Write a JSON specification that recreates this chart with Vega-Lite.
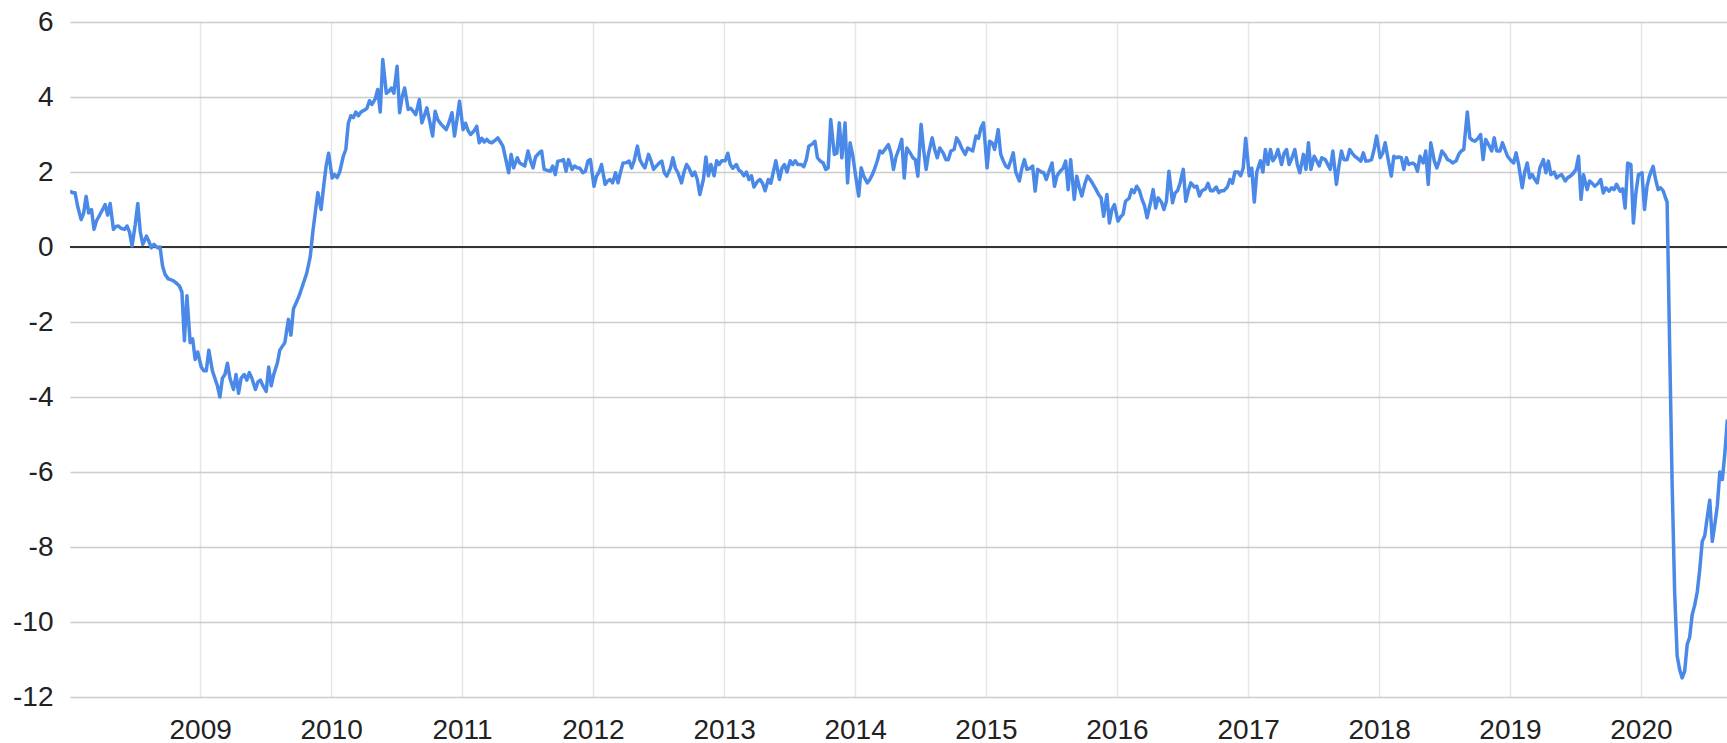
{
"$schema": "https://vega.github.io/schema/vega-lite/v6.json",
"width": 1657, "height": 675, "autosize": "none",
"padding": {"left": 70, "top": 22, "right": 0, "bottom": 46},
"background": "white",
"config": {"view": {"stroke": null}, "font": "Liberation Sans"},
"datasets": {"s": [
{"d":"2008-01-04","v":1.49},{"d":"2008-01-11","v":1.45},{"d":"2008-01-18","v":1.45},{"d":"2008-01-25","v":1.1},
{"d":"2008-02-04","v":0.73},{"d":"2008-02-11","v":0.9},{"d":"2008-02-18","v":1.35},{"d":"2008-02-25","v":0.91},
{"d":"2008-03-04","v":1.0},{"d":"2008-03-11","v":0.47},{"d":"2008-03-18","v":0.7},{"d":"2008-03-25","v":0.82},
{"d":"2008-04-04","v":1.0},{"d":"2008-04-11","v":1.13},{"d":"2008-04-18","v":0.85},{"d":"2008-04-25","v":1.16},
{"d":"2008-05-04","v":0.47},{"d":"2008-05-11","v":0.55},{"d":"2008-05-18","v":0.56},{"d":"2008-05-25","v":0.5},
{"d":"2008-06-04","v":0.47},{"d":"2008-06-11","v":0.56},{"d":"2008-06-18","v":0.4},{"d":"2008-06-25","v":0.03},
{"d":"2008-07-04","v":0.6},{"d":"2008-07-11","v":1.16},{"d":"2008-07-18","v":0.4},{"d":"2008-07-25","v":0.07},
{"d":"2008-08-04","v":0.29},{"d":"2008-08-11","v":0.15},{"d":"2008-08-18","v":-0.02},{"d":"2008-08-25","v":0.07},
{"d":"2008-09-04","v":-0.02},{"d":"2008-09-11","v":0.0},{"d":"2008-09-18","v":-0.5},{"d":"2008-09-25","v":-0.73},
{"d":"2008-10-04","v":-0.85},{"d":"2008-10-11","v":-0.87},{"d":"2008-10-18","v":-0.9},{"d":"2008-10-25","v":-0.95},
{"d":"2008-11-04","v":-1.04},{"d":"2008-11-11","v":-1.2},{"d":"2008-11-18","v":-2.5},{"d":"2008-11-25","v":-1.3},
{"d":"2008-12-04","v":-2.55},{"d":"2008-12-11","v":-2.45},{"d":"2008-12-18","v":-3.0},{"d":"2008-12-25","v":-2.8},
{"d":"2009-01-04","v":-3.2},{"d":"2009-01-11","v":-3.3},{"d":"2009-01-18","v":-3.3},{"d":"2009-01-25","v":-2.75},
{"d":"2009-02-04","v":-3.3},{"d":"2009-02-11","v":-3.5},{"d":"2009-02-18","v":-3.7},{"d":"2009-02-25","v":-4.0},
{"d":"2009-03-04","v":-3.5},{"d":"2009-03-11","v":-3.4},{"d":"2009-03-18","v":-3.1},{"d":"2009-03-25","v":-3.5},
{"d":"2009-04-04","v":-3.8},{"d":"2009-04-11","v":-3.4},{"d":"2009-04-18","v":-3.9},{"d":"2009-04-25","v":-3.5},
{"d":"2009-05-04","v":-3.4},{"d":"2009-05-11","v":-3.55},{"d":"2009-05-18","v":-3.35},{"d":"2009-05-25","v":-3.5},
{"d":"2009-06-04","v":-3.8},{"d":"2009-06-11","v":-3.6},{"d":"2009-06-18","v":-3.55},{"d":"2009-06-25","v":-3.7},
{"d":"2009-07-04","v":-3.85},{"d":"2009-07-11","v":-3.2},{"d":"2009-07-18","v":-3.7},{"d":"2009-07-25","v":-3.4},
{"d":"2009-08-04","v":-3.1},{"d":"2009-08-11","v":-2.75},{"d":"2009-08-18","v":-2.65},{"d":"2009-08-25","v":-2.55},
{"d":"2009-09-04","v":-1.93},{"d":"2009-09-11","v":-2.35},{"d":"2009-09-18","v":-1.65},{"d":"2009-09-25","v":-1.5},
{"d":"2009-10-04","v":-1.3},{"d":"2009-10-11","v":-1.1},{"d":"2009-10-18","v":-0.9},{"d":"2009-10-25","v":-0.7},
{"d":"2009-11-04","v":-0.25},{"d":"2009-11-11","v":0.4},{"d":"2009-11-18","v":0.93},{"d":"2009-11-25","v":1.45},
{"d":"2009-12-04","v":1.0},{"d":"2009-12-11","v":1.6},{"d":"2009-12-18","v":2.15},{"d":"2009-12-25","v":2.5},
{"d":"2010-01-04","v":1.84},{"d":"2010-01-11","v":1.93},{"d":"2010-01-18","v":1.85},{"d":"2010-01-25","v":2.0},
{"d":"2010-02-04","v":2.42},{"d":"2010-02-11","v":2.6},{"d":"2010-02-18","v":3.3},{"d":"2010-02-25","v":3.5},
{"d":"2010-03-04","v":3.45},{"d":"2010-03-11","v":3.6},{"d":"2010-03-18","v":3.5},{"d":"2010-03-25","v":3.6},
{"d":"2010-04-04","v":3.65},{"d":"2010-04-11","v":3.7},{"d":"2010-04-18","v":3.9},{"d":"2010-04-25","v":3.8},
{"d":"2010-05-04","v":3.95},{"d":"2010-05-11","v":4.2},{"d":"2010-05-18","v":3.6},{"d":"2010-05-25","v":5.0},
{"d":"2010-06-04","v":4.1},{"d":"2010-06-11","v":4.15},{"d":"2010-06-18","v":4.24},{"d":"2010-06-25","v":4.1},
{"d":"2010-07-04","v":4.82},{"d":"2010-07-11","v":3.58},{"d":"2010-07-18","v":4.0},{"d":"2010-07-25","v":4.24},
{"d":"2010-08-04","v":3.67},{"d":"2010-08-11","v":3.7},{"d":"2010-08-18","v":3.62},{"d":"2010-08-25","v":3.53},
{"d":"2010-09-04","v":3.93},{"d":"2010-09-11","v":3.31},{"d":"2010-09-18","v":3.5},{"d":"2010-09-25","v":3.71},
{"d":"2010-10-04","v":3.3},{"d":"2010-10-11","v":2.96},{"d":"2010-10-18","v":3.62},{"d":"2010-10-25","v":3.4},
{"d":"2010-11-04","v":3.27},{"d":"2010-11-11","v":3.2},{"d":"2010-11-18","v":3.13},{"d":"2010-11-25","v":3.3},
{"d":"2010-12-04","v":3.58},{"d":"2010-12-11","v":2.96},{"d":"2010-12-18","v":3.4},{"d":"2010-12-25","v":3.89},
{"d":"2011-01-04","v":3.13},{"d":"2011-01-11","v":3.3},{"d":"2011-01-18","v":3.1},{"d":"2011-01-25","v":3.0},
{"d":"2011-02-04","v":3.1},{"d":"2011-02-11","v":3.22},{"d":"2011-02-18","v":2.78},{"d":"2011-02-25","v":2.9},
{"d":"2011-03-04","v":2.8},{"d":"2011-03-11","v":2.87},{"d":"2011-03-18","v":2.8},{"d":"2011-03-25","v":2.78},
{"d":"2011-04-04","v":2.85},{"d":"2011-04-11","v":2.91},{"d":"2011-04-18","v":2.8},{"d":"2011-04-25","v":2.69},
{"d":"2011-05-04","v":2.3},{"d":"2011-05-11","v":1.98},{"d":"2011-05-18","v":2.47},{"d":"2011-05-25","v":2.11},
{"d":"2011-06-04","v":2.38},{"d":"2011-06-11","v":2.24},{"d":"2011-06-18","v":2.2},{"d":"2011-06-25","v":2.16},
{"d":"2011-07-04","v":2.56},{"d":"2011-07-11","v":2.3},{"d":"2011-07-18","v":2.11},{"d":"2011-07-25","v":2.4},
{"d":"2011-08-04","v":2.51},{"d":"2011-08-11","v":2.56},{"d":"2011-08-18","v":2.07},{"d":"2011-08-25","v":2.05},
{"d":"2011-09-04","v":2.02},{"d":"2011-09-11","v":2.16},{"d":"2011-09-18","v":1.93},{"d":"2011-09-25","v":2.29},
{"d":"2011-10-04","v":2.3},{"d":"2011-10-11","v":2.33},{"d":"2011-10-18","v":2.02},{"d":"2011-10-25","v":2.33},
{"d":"2011-11-04","v":2.07},{"d":"2011-11-11","v":2.16},{"d":"2011-11-18","v":2.11},{"d":"2011-11-25","v":2.11},
{"d":"2011-12-04","v":1.98},{"d":"2011-12-11","v":2.02},{"d":"2011-12-18","v":2.29},{"d":"2011-12-25","v":2.33},
{"d":"2012-01-04","v":1.62},{"d":"2012-01-11","v":1.89},{"d":"2012-01-18","v":2.0},{"d":"2012-01-25","v":2.2},
{"d":"2012-02-04","v":1.67},{"d":"2012-02-11","v":1.76},{"d":"2012-02-18","v":1.8},{"d":"2012-02-25","v":1.71},
{"d":"2012-03-04","v":1.98},{"d":"2012-03-11","v":1.71},{"d":"2012-03-18","v":2.0},{"d":"2012-03-25","v":2.24},
{"d":"2012-04-04","v":2.25},{"d":"2012-04-11","v":2.29},{"d":"2012-04-18","v":2.11},{"d":"2012-04-25","v":2.3},
{"d":"2012-05-04","v":2.69},{"d":"2012-05-11","v":2.33},{"d":"2012-05-18","v":2.2},{"d":"2012-05-25","v":2.11},
{"d":"2012-06-04","v":2.47},{"d":"2012-06-11","v":2.3},{"d":"2012-06-18","v":2.07},{"d":"2012-06-25","v":2.15},
{"d":"2012-07-04","v":2.24},{"d":"2012-07-11","v":2.29},{"d":"2012-07-18","v":1.98},{"d":"2012-07-25","v":1.89},
{"d":"2012-08-04","v":2.1},{"d":"2012-08-11","v":2.38},{"d":"2012-08-18","v":2.1},{"d":"2012-08-25","v":1.98},
{"d":"2012-09-04","v":1.71},{"d":"2012-09-11","v":2.0},{"d":"2012-09-18","v":2.2},{"d":"2012-09-25","v":2.1},
{"d":"2012-10-04","v":1.9},{"d":"2012-10-11","v":2.0},{"d":"2012-10-18","v":1.8},{"d":"2012-10-25","v":1.4},
{"d":"2012-11-04","v":1.8},{"d":"2012-11-11","v":2.4},{"d":"2012-11-18","v":1.9},{"d":"2012-11-25","v":2.2},
{"d":"2012-12-04","v":1.9},{"d":"2012-12-11","v":2.3},{"d":"2012-12-18","v":2.2},{"d":"2012-12-25","v":2.3},
{"d":"2013-01-04","v":2.3},{"d":"2013-01-11","v":2.5},{"d":"2013-01-18","v":2.2},{"d":"2013-01-25","v":2.1},
{"d":"2013-02-04","v":2.2},{"d":"2013-02-11","v":2.05},{"d":"2013-02-18","v":2.0},{"d":"2013-02-25","v":1.9},
{"d":"2013-03-04","v":2.0},{"d":"2013-03-11","v":1.8},{"d":"2013-03-18","v":1.9},{"d":"2013-03-25","v":1.6},
{"d":"2013-04-04","v":1.75},{"d":"2013-04-11","v":1.8},{"d":"2013-04-18","v":1.7},{"d":"2013-04-25","v":1.5},
{"d":"2013-05-04","v":1.8},{"d":"2013-05-11","v":1.7},{"d":"2013-05-18","v":2.0},{"d":"2013-05-25","v":2.3},
{"d":"2013-06-04","v":1.8},{"d":"2013-06-11","v":2.1},{"d":"2013-06-18","v":2.2},{"d":"2013-06-25","v":2.0},
{"d":"2013-07-04","v":2.3},{"d":"2013-07-11","v":2.2},{"d":"2013-07-18","v":2.3},{"d":"2013-07-25","v":2.2},
{"d":"2013-08-04","v":2.2},{"d":"2013-08-11","v":2.14},{"d":"2013-08-18","v":2.33},{"d":"2013-08-25","v":2.69},
{"d":"2013-09-04","v":2.75},{"d":"2013-09-11","v":2.82},{"d":"2013-09-18","v":2.38},{"d":"2013-09-25","v":2.3},
{"d":"2013-10-04","v":2.24},{"d":"2013-10-11","v":2.07},{"d":"2013-10-18","v":2.11},{"d":"2013-10-25","v":3.4},
{"d":"2013-11-04","v":2.47},{"d":"2013-11-11","v":2.5},{"d":"2013-11-18","v":3.31},{"d":"2013-11-25","v":2.38},
{"d":"2013-12-04","v":3.31},{"d":"2013-12-11","v":1.71},{"d":"2013-12-18","v":2.78},{"d":"2013-12-25","v":2.47},
{"d":"2014-01-04","v":1.8},{"d":"2014-01-11","v":1.36},{"d":"2014-01-18","v":2.11},{"d":"2014-01-25","v":1.89},
{"d":"2014-02-04","v":1.71},{"d":"2014-02-11","v":1.8},{"d":"2014-02-18","v":1.93},{"d":"2014-02-25","v":2.1},
{"d":"2014-03-04","v":2.3},{"d":"2014-03-11","v":2.56},{"d":"2014-03-18","v":2.51},{"d":"2014-03-25","v":2.6},
{"d":"2014-04-04","v":2.73},{"d":"2014-04-11","v":2.5},{"d":"2014-04-18","v":2.07},{"d":"2014-04-25","v":2.4},
{"d":"2014-05-04","v":2.64},{"d":"2014-05-11","v":2.87},{"d":"2014-05-18","v":1.84},{"d":"2014-05-25","v":2.64},
{"d":"2014-06-04","v":2.5},{"d":"2014-06-11","v":2.38},{"d":"2014-06-18","v":2.33},{"d":"2014-06-25","v":1.89},
{"d":"2014-07-04","v":3.27},{"d":"2014-07-11","v":2.6},{"d":"2014-07-18","v":2.07},{"d":"2014-07-25","v":2.5},
{"d":"2014-08-04","v":2.91},{"d":"2014-08-11","v":2.6},{"d":"2014-08-18","v":2.38},{"d":"2014-08-25","v":2.64},
{"d":"2014-09-04","v":2.5},{"d":"2014-09-11","v":2.33},{"d":"2014-09-18","v":2.33},{"d":"2014-09-25","v":2.56},
{"d":"2014-10-04","v":2.6},{"d":"2014-10-11","v":2.91},{"d":"2014-10-18","v":2.8},{"d":"2014-10-25","v":2.64},
{"d":"2014-11-04","v":2.47},{"d":"2014-11-11","v":2.64},{"d":"2014-11-18","v":2.6},{"d":"2014-11-25","v":2.56},
{"d":"2014-12-04","v":2.96},{"d":"2014-12-11","v":2.9},{"d":"2014-12-18","v":3.18},{"d":"2014-12-25","v":3.31},
{"d":"2015-01-04","v":2.11},{"d":"2015-01-11","v":2.82},{"d":"2015-01-18","v":2.78},{"d":"2015-01-25","v":2.6},
{"d":"2015-02-04","v":3.13},{"d":"2015-02-11","v":2.47},{"d":"2015-02-18","v":2.3},{"d":"2015-02-25","v":2.16},
{"d":"2015-03-04","v":2.11},{"d":"2015-03-11","v":2.3},{"d":"2015-03-18","v":2.51},{"d":"2015-03-25","v":2.0},
{"d":"2015-04-04","v":1.76},{"d":"2015-04-11","v":2.1},{"d":"2015-04-18","v":2.33},{"d":"2015-04-25","v":2.07},
{"d":"2015-05-04","v":2.1},{"d":"2015-05-11","v":2.16},{"d":"2015-05-18","v":1.49},{"d":"2015-05-25","v":2.07},
{"d":"2015-06-04","v":2.0},{"d":"2015-06-11","v":1.98},{"d":"2015-06-18","v":1.8},{"d":"2015-06-25","v":2.0},
{"d":"2015-07-04","v":2.24},{"d":"2015-07-11","v":1.62},{"d":"2015-07-18","v":1.9},{"d":"2015-07-25","v":2.0},
{"d":"2015-08-04","v":2.1},{"d":"2015-08-11","v":2.29},{"d":"2015-08-18","v":1.53},{"d":"2015-08-25","v":2.33},
{"d":"2015-09-04","v":1.27},{"d":"2015-09-11","v":1.89},{"d":"2015-09-18","v":1.6},{"d":"2015-09-25","v":1.36},
{"d":"2015-10-04","v":1.7},{"d":"2015-10-11","v":1.89},{"d":"2015-10-18","v":1.8},{"d":"2015-10-25","v":1.7},
{"d":"2015-11-04","v":1.53},{"d":"2015-11-11","v":1.4},{"d":"2015-11-18","v":1.31},{"d":"2015-11-25","v":0.82},
{"d":"2015-12-04","v":1.4},{"d":"2015-12-11","v":0.64},{"d":"2015-12-18","v":1.0},{"d":"2015-12-25","v":1.13},
{"d":"2016-01-04","v":0.69},{"d":"2016-01-11","v":0.8},{"d":"2016-01-18","v":0.87},{"d":"2016-01-25","v":1.22},
{"d":"2016-02-04","v":1.3},{"d":"2016-02-11","v":1.53},{"d":"2016-02-18","v":1.45},{"d":"2016-02-25","v":1.62},
{"d":"2016-03-04","v":1.5},{"d":"2016-03-11","v":1.27},{"d":"2016-03-18","v":1.1},{"d":"2016-03-25","v":0.78},
{"d":"2016-04-04","v":1.2},{"d":"2016-04-11","v":1.53},{"d":"2016-04-18","v":1.04},{"d":"2016-04-25","v":1.31},
{"d":"2016-05-04","v":1.2},{"d":"2016-05-11","v":1.0},{"d":"2016-05-18","v":1.22},{"d":"2016-05-25","v":2.02},
{"d":"2016-06-04","v":1.18},{"d":"2016-06-11","v":1.44},{"d":"2016-06-18","v":1.5},{"d":"2016-06-25","v":1.7},
{"d":"2016-07-04","v":2.07},{"d":"2016-07-11","v":1.22},{"d":"2016-07-18","v":1.5},{"d":"2016-07-25","v":1.71},
{"d":"2016-08-04","v":1.6},{"d":"2016-08-11","v":1.62},{"d":"2016-08-18","v":1.36},{"d":"2016-08-25","v":1.5},
{"d":"2016-09-04","v":1.55},{"d":"2016-09-11","v":1.7},{"d":"2016-09-18","v":1.5},{"d":"2016-09-25","v":1.5},
{"d":"2016-10-04","v":1.6},{"d":"2016-10-11","v":1.45},{"d":"2016-10-18","v":1.5},{"d":"2016-10-25","v":1.5},
{"d":"2016-11-04","v":1.6},{"d":"2016-11-11","v":1.8},{"d":"2016-11-18","v":1.7},{"d":"2016-11-25","v":2.0},
{"d":"2016-12-04","v":2.0},{"d":"2016-12-11","v":1.9},{"d":"2016-12-18","v":2.1},{"d":"2016-12-25","v":2.9},
{"d":"2017-01-04","v":1.9},{"d":"2017-01-11","v":2.1},{"d":"2017-01-18","v":1.2},{"d":"2017-01-25","v":2.0},
{"d":"2017-02-04","v":2.3},{"d":"2017-02-11","v":2.0},{"d":"2017-02-18","v":2.6},{"d":"2017-02-25","v":2.2},
{"d":"2017-03-04","v":2.6},{"d":"2017-03-11","v":2.3},{"d":"2017-03-18","v":2.4},{"d":"2017-03-25","v":2.6},
{"d":"2017-04-04","v":2.2},{"d":"2017-04-11","v":2.5},{"d":"2017-04-18","v":2.6},{"d":"2017-04-25","v":2.2},
{"d":"2017-05-04","v":2.4},{"d":"2017-05-11","v":2.6},{"d":"2017-05-18","v":2.2},{"d":"2017-05-25","v":1.98},
{"d":"2017-06-04","v":2.47},{"d":"2017-06-11","v":2.07},{"d":"2017-06-18","v":2.78},{"d":"2017-06-25","v":2.07},
{"d":"2017-07-04","v":2.42},{"d":"2017-07-11","v":2.3},{"d":"2017-07-18","v":2.16},{"d":"2017-07-25","v":2.38},
{"d":"2017-08-04","v":2.33},{"d":"2017-08-11","v":2.2},{"d":"2017-08-18","v":2.07},{"d":"2017-08-25","v":2.56},
{"d":"2017-09-04","v":1.67},{"d":"2017-09-11","v":2.16},{"d":"2017-09-18","v":2.56},{"d":"2017-09-25","v":2.33},
{"d":"2017-10-04","v":2.33},{"d":"2017-10-11","v":2.6},{"d":"2017-10-18","v":2.5},{"d":"2017-10-25","v":2.42},
{"d":"2017-11-04","v":2.35},{"d":"2017-11-11","v":2.29},{"d":"2017-11-18","v":2.51},{"d":"2017-11-25","v":2.29},
{"d":"2017-12-04","v":2.3},{"d":"2017-12-11","v":2.33},{"d":"2017-12-18","v":2.6},{"d":"2017-12-25","v":2.96},
{"d":"2018-01-04","v":2.38},{"d":"2018-01-11","v":2.5},{"d":"2018-01-18","v":2.78},{"d":"2018-01-25","v":2.4},
{"d":"2018-02-04","v":1.89},{"d":"2018-02-11","v":2.42},{"d":"2018-02-18","v":2.38},{"d":"2018-02-25","v":2.4},
{"d":"2018-03-04","v":2.38},{"d":"2018-03-11","v":2.07},{"d":"2018-03-18","v":2.38},{"d":"2018-03-25","v":2.2},
{"d":"2018-04-04","v":2.24},{"d":"2018-04-11","v":2.2},{"d":"2018-04-18","v":2.02},{"d":"2018-04-25","v":2.42},
{"d":"2018-05-04","v":2.24},{"d":"2018-05-11","v":2.56},{"d":"2018-05-18","v":1.67},{"d":"2018-05-25","v":2.78},
{"d":"2018-06-04","v":2.29},{"d":"2018-06-11","v":2.11},{"d":"2018-06-18","v":2.3},{"d":"2018-06-25","v":2.56},
{"d":"2018-07-04","v":2.45},{"d":"2018-07-11","v":2.33},{"d":"2018-07-18","v":2.3},{"d":"2018-07-25","v":2.24},
{"d":"2018-08-04","v":2.3},{"d":"2018-08-11","v":2.47},{"d":"2018-08-18","v":2.56},{"d":"2018-08-25","v":2.6},
{"d":"2018-09-04","v":3.6},{"d":"2018-09-11","v":2.91},{"d":"2018-09-18","v":2.85},{"d":"2018-09-25","v":2.82},
{"d":"2018-10-04","v":2.9},{"d":"2018-10-11","v":3.0},{"d":"2018-10-18","v":2.33},{"d":"2018-10-25","v":2.87},
{"d":"2018-11-04","v":2.7},{"d":"2018-11-11","v":2.56},{"d":"2018-11-18","v":2.91},{"d":"2018-11-25","v":2.56},
{"d":"2018-12-04","v":2.56},{"d":"2018-12-11","v":2.78},{"d":"2018-12-18","v":2.6},{"d":"2018-12-25","v":2.42},
{"d":"2019-01-04","v":2.3},{"d":"2019-01-11","v":2.24},{"d":"2019-01-18","v":2.51},{"d":"2019-01-25","v":2.2},
{"d":"2019-02-04","v":1.58},{"d":"2019-02-11","v":2.0},{"d":"2019-02-18","v":2.24},{"d":"2019-02-25","v":1.84},
{"d":"2019-03-04","v":1.93},{"d":"2019-03-11","v":1.8},{"d":"2019-03-18","v":1.71},{"d":"2019-03-25","v":2.1},
{"d":"2019-04-04","v":2.33},{"d":"2019-04-11","v":1.98},{"d":"2019-04-18","v":2.29},{"d":"2019-04-25","v":1.93},
{"d":"2019-05-04","v":2.0},{"d":"2019-05-11","v":1.84},{"d":"2019-05-18","v":1.9},{"d":"2019-05-25","v":1.93},
{"d":"2019-06-04","v":1.76},{"d":"2019-06-11","v":1.85},{"d":"2019-06-18","v":1.89},{"d":"2019-06-25","v":1.95},
{"d":"2019-07-04","v":2.07},{"d":"2019-07-11","v":2.42},{"d":"2019-07-18","v":1.27},{"d":"2019-07-25","v":1.93},
{"d":"2019-08-04","v":1.53},{"d":"2019-08-11","v":1.76},{"d":"2019-08-18","v":1.7},{"d":"2019-08-25","v":1.62},
{"d":"2019-09-04","v":1.7},{"d":"2019-09-11","v":1.8},{"d":"2019-09-18","v":1.44},{"d":"2019-09-25","v":1.58},
{"d":"2019-10-04","v":1.49},{"d":"2019-10-11","v":1.58},{"d":"2019-10-18","v":1.53},{"d":"2019-10-25","v":1.67},
{"d":"2019-11-04","v":1.49},{"d":"2019-11-11","v":1.55},{"d":"2019-11-18","v":1.04},{"d":"2019-11-25","v":2.24},
{"d":"2019-12-04","v":2.2},{"d":"2019-12-11","v":0.64},{"d":"2019-12-18","v":1.44},{"d":"2019-12-25","v":1.93},
{"d":"2020-01-04","v":1.98},{"d":"2020-01-11","v":1.0},{"d":"2020-01-18","v":1.62},{"d":"2020-01-25","v":1.9},
{"d":"2020-02-04","v":2.15},{"d":"2020-02-11","v":1.8},{"d":"2020-02-18","v":1.53},{"d":"2020-02-25","v":1.58},
{"d":"2020-03-03","v":1.5},{"d":"2020-03-10","v":1.3},{"d":"2020-03-14","v":1.2},{"d":"2020-03-21","v":-2.6},
{"d":"2020-03-28","v":-6.3},{"d":"2020-04-04","v":-9.2},{"d":"2020-04-11","v":-10.9},{"d":"2020-04-18","v":-11.27},
{"d":"2020-04-25","v":-11.49},{"d":"2020-05-02","v":-11.31},{"d":"2020-05-09","v":-10.6},{"d":"2020-05-16","v":-10.4},
{"d":"2020-05-23","v":-9.8},{"d":"2020-05-30","v":-9.55},{"d":"2020-06-06","v":-9.2},{"d":"2020-06-13","v":-8.6},
{"d":"2020-06-20","v":-7.85},{"d":"2020-06-27","v":-7.7},{"d":"2020-07-04","v":-7.2},{"d":"2020-07-11","v":-6.75},
{"d":"2020-07-18","v":-7.85},{"d":"2020-07-25","v":-7.4},{"d":"2020-08-01","v":-6.9},{"d":"2020-08-08","v":-6.0},
{"d":"2020-08-15","v":-6.2},{"d":"2020-08-22","v":-5.5},{"d":"2020-08-29","v":-4.6}
]},
"layer": [
{"data": {"values": [{}]},
 "mark": {"type": "rule", "color": "#333333", "strokeWidth": 2},
 "encoding": {"y": {"datum": 0, "type": "quantitative"}}},
{"data": {"name": "s"},
 "mark": {"type": "line", "color": "#4a89e8", "strokeWidth": 3.5, "strokeJoin": "round", "clip": true},
 "encoding": {
  "x": {"field": "d", "type": "temporal",
        "scale": {"type": "utc", "domain": [{"year": 2008, "month": 1, "date": 4, "utc": true}, {"year": 2020, "month": 8, "date": 28, "utc": true}], "nice": false},
        "axis": {"title": null, "format": "%Y", "tickCount": {"interval": "year", "step": 1}, "grid": true, "gridColor": "#e6e6e6", "gridWidth": 1.5, "domain": false, "ticks": false, "labelFontSize": 28, "labelColor": "#222222", "labelPadding": 19, "labelFlush": false, "labelOverlap": false, "labelFont": "Liberation Sans"}},
  "y": {"field": "v", "type": "quantitative",
        "scale": {"domain": [-12, 6], "nice": false, "zero": false},
        "axis": {"title": null, "values": [-12, -10, -8, -6, -4, -2, 0, 2, 4, 6], "labelExpr": "replace(datum.label, '\u2212', '-')", "grid": true, "gridColor": "#cccccc", "gridWidth": 1.5, "domain": false, "ticks": false, "labelFontSize": 28, "labelColor": "#222222", "labelPadding": 17, "labelFlush": false, "labelFont": "Liberation Sans"}}
 }}
]
}
